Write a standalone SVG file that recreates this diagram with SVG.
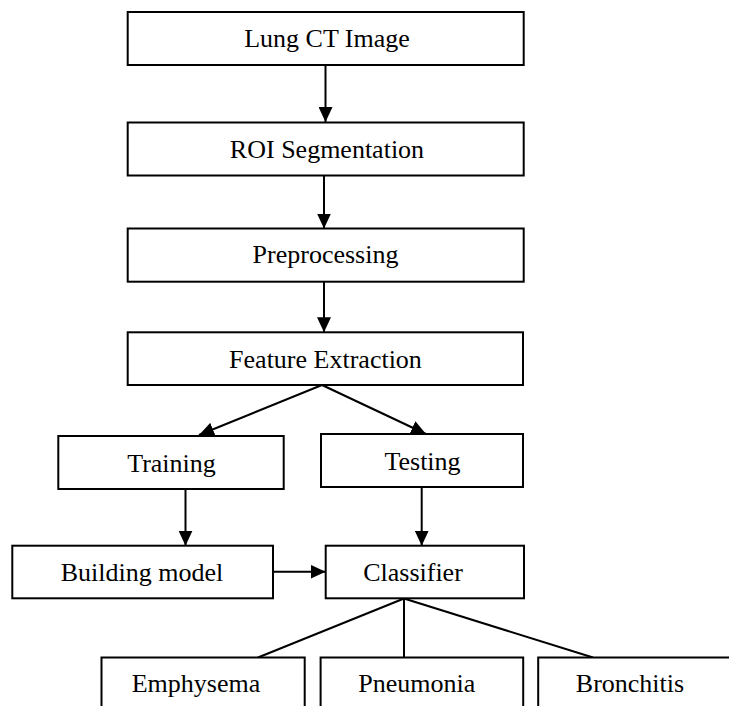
<svg xmlns="http://www.w3.org/2000/svg" width="729" height="706" viewBox="0 0 729 706">
<style>
.box{fill:#fff;stroke:#000;stroke-width:2}
.lbl{font-family:"Liberation Serif","Times New Roman",serif;font-size:26px;fill:#000;text-anchor:middle}
.edge{fill:none;stroke:#000;stroke-width:2}
</style>
<defs>
<marker id="ah" markerUnits="userSpaceOnUse" markerWidth="16" markerHeight="14" refX="15" refY="7" orient="auto">
<path d="M0,0 L15,7 L0,14 z" fill="#000"/>
</marker>
</defs>
<rect width="729" height="706" fill="#fff"/>
<g id="connectors">
<line class="edge" x1="325.5" y1="65" x2="325.5" y2="122" marker-end="url(#ah)"/>
<line class="edge" x1="324" y1="175.5" x2="324" y2="228.5" marker-end="url(#ah)"/>
<line class="edge" x1="324" y1="281.7" x2="324" y2="332.3" marker-end="url(#ah)"/>
<line class="edge" x1="322" y1="385" x2="199" y2="435" marker-end="url(#ah)"/>
<line class="edge" x1="322" y1="385" x2="426" y2="434" marker-end="url(#ah)"/>
<line class="edge" x1="185.5" y1="489" x2="185.5" y2="545.7" marker-end="url(#ah)"/>
<line class="edge" x1="421.7" y1="487" x2="421.7" y2="545.7" marker-end="url(#ah)"/>
<line class="edge" x1="273" y1="571.7" x2="325.5" y2="571.7" marker-end="url(#ah)"/>
<line class="edge" x1="404" y1="598.5" x2="258" y2="657.5"/>
<line class="edge" x1="404" y1="598.5" x2="404" y2="657.5"/>
<line class="edge" x1="404" y1="598.5" x2="593" y2="657.5"/>
</g>
<g id="lung"><rect class="box" x="127.7" y="12" width="396" height="53"/><text class="lbl" x="327" y="47">Lung CT Image</text></g>
<g id="roi"><rect class="box" x="127.7" y="122.5" width="396" height="53"/><text class="lbl" x="327" y="158">ROI Segmentation</text></g>
<g id="preprocessing"><rect class="box" x="127.7" y="228.5" width="396" height="53.2"/><text class="lbl" x="325.5" y="263">Preprocessing</text></g>
<g id="feature"><rect class="box" x="127.7" y="332.3" width="395.3" height="52.7"/><text class="lbl" x="325.5" y="368">Feature Extraction</text></g>
<g id="training"><rect class="box" x="58.3" y="436" width="225.4" height="53"/><text class="lbl" x="171.5" y="471.5">Training</text></g>
<g id="testing"><rect class="box" x="321" y="434" width="202" height="53"/><text class="lbl" x="422.5" y="469.5">Testing</text></g>
<g id="building"><rect class="box" x="12.3" y="545.7" width="260.7" height="52.6"/><text class="lbl" x="142" y="581">Building model</text></g>
<g id="classifier"><rect class="box" x="325.7" y="545.7" width="198.3" height="52.6"/><text class="lbl" x="413" y="581">Classifier</text></g>
<g id="emphysema"><rect class="box" x="101.5" y="657.5" width="203.2" height="60"/><text class="lbl" x="196" y="692">Emphysema</text></g>
<g id="pneumonia"><rect class="box" x="320.6" y="657.5" width="202.6" height="60"/><text class="lbl" x="416.7" y="692">Pneumonia</text></g>
<g id="bronchitis"><rect class="box" x="538.2" y="657.5" width="200" height="60"/><text class="lbl" x="630" y="692">Bronchitis</text></g>
</svg>
